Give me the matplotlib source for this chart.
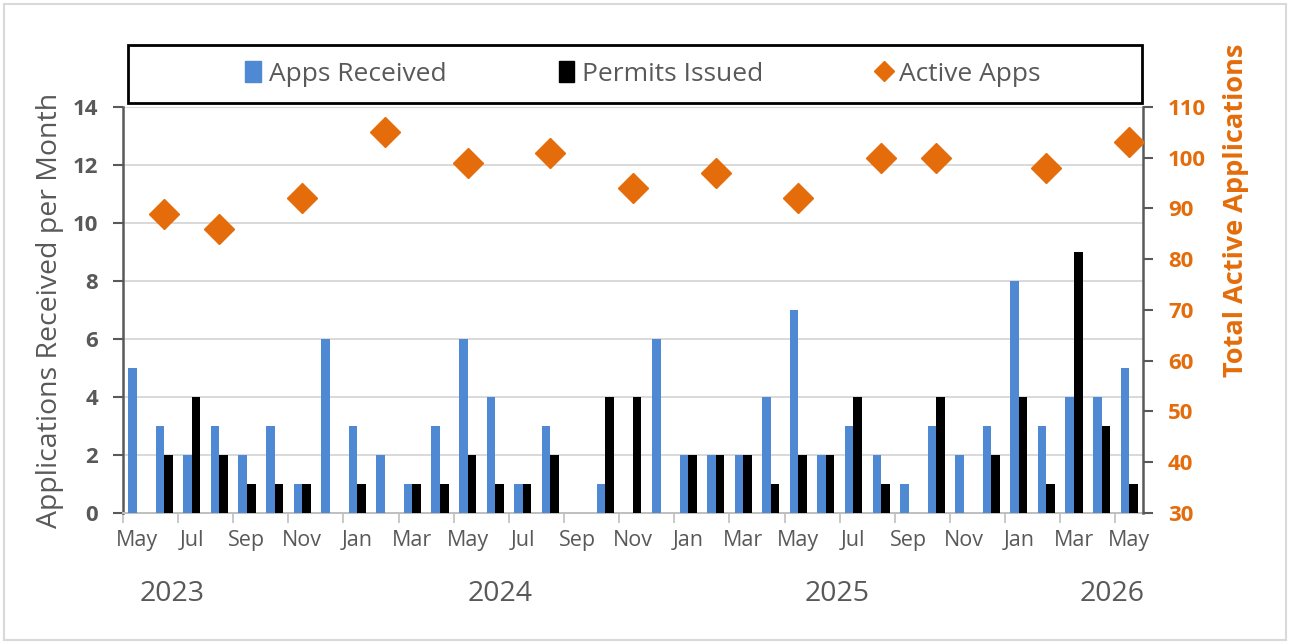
import numpy as np
import matplotlib.pyplot as plt
from matplotlib.patches import Rectangle
from matplotlib.lines import Line2D
from matplotlib.patches import Patch

plt.rcParams['font.family'] = ['Open Sans', 'DejaVu Sans']

# monthly counts, May 2023 .. May 2026
months = ["May", "Jun", "Jul", "Aug", "Sep", "Oct", "Nov", "Dec",
          "Jan", "Feb", "Mar", "Apr", "May", "Jun", "Jul", "Aug", "Sep", "Oct", "Nov", "Dec",
          "Jan", "Feb", "Mar", "Apr", "May", "Jun", "Jul", "Aug", "Sep", "Oct", "Nov", "Dec",
          "Jan", "Feb", "Mar", "Apr", "May"]
apps_received = [5, 3, 2, 3, 2, 3, 1, 6,
                 3, 2, 1, 3, 6, 4, 1, 3, 0, 1, 0, 6,
                 2, 2, 2, 4, 7, 2, 3, 2, 1, 3, 2, 3,
                 8, 3, 4, 4, 5]
permits_issued = [0, 2, 4, 2, 1, 1, 1, 0,
                  1, 0, 1, 1, 2, 1, 1, 2, 0, 4, 4, 0,
                  2, 2, 2, 1, 2, 2, 4, 1, 0, 4, 0, 2,
                  4, 1, 9, 3, 1]
# total active applications, only reported some months
active_apps = [np.nan, 89, np.nan, 86, np.nan, np.nan, 92, np.nan,
               np.nan, 105, np.nan, np.nan, 99, np.nan, np.nan, 101, np.nan, np.nan, 94, np.nan,
               np.nan, 97, np.nan, np.nan, 92, np.nan, np.nan, 100, np.nan, 100, np.nan, np.nan,
               np.nan, 98, np.nan, np.nan, 103]
years = ["2023", "2024", "2025", "2026"]
year_pos = [1.3, 13.2, 25.4, 35.4]

blue = "#4F88D3"
orange = "#E46C0A"
gray = "#595959"

x = np.arange(len(months))
fig = plt.figure(figsize=(12.9, 6.44), dpi=100)
ax = fig.add_axes([0.0953, 0.2034, 0.7907, 0.6305])

w = 0.31
ax.bar(x - w / 2, apps_received, width=w, color=blue, zorder=3)
ax.bar(x + w / 2, permits_issued, width=w, color="black", zorder=3)

ax.set_xlim(-0.5, len(months) - 0.5)
ax.set_ylim(0, 14)
ax.set_yticks(range(0, 15, 2))
ax.yaxis.grid(True, color="#D9D9D9", lw=1.4, zorder=0)
ax.set_axisbelow(True)

# labels every other month at the centre, ticks on the boundaries
ax.set_xticks(x[::2])
ax.set_xticklabels(months[::2], fontsize=15.5, color=gray)
ax.tick_params(axis="x", length=0, pad=12)
ax.set_xticks(np.arange(-0.5, len(months), 2), minor=True)
ax.tick_params(axis="x", which="minor", length=7, width=1.2, color="#BFBFBF")

ax.tick_params(axis="y", length=7, width=1.5, color=gray, labelsize=16, labelcolor=gray, pad=11)
for t in ax.get_yticklabels():
    t.set_fontweight("bold")
ax.set_ylabel("Applications Received per Month", fontsize=20.5, color=gray, labelpad=6)

ax.spines["top"].set_visible(False)
ax.spines["left"].set_color(gray)
ax.spines["left"].set_linewidth(1.8)
ax.spines["bottom"].set_color("#BFBFBF")
ax.spines["bottom"].set_linewidth(1.4)
ax.spines["right"].set_visible(False)

ax2 = ax.twinx()
ax2.plot(x, active_apps, linestyle="none", marker="D", ms=15, color=orange, zorder=4)
ax2.set_ylim(30, 110)
ax2.set_yticks(range(30, 111, 10))
ax2.tick_params(axis="y", length=7, width=1.5, color=gray, labelsize=16, labelcolor=orange, pad=11)
for t in ax2.get_yticklabels():
    t.set_fontweight("bold")
ax2.set_ylabel("Total Active Applications", fontsize=19.5, color=orange, fontweight="bold")
ax2.yaxis.set_label_coords(1.078, 0.746)
for s in ["top", "left", "bottom"]:
    ax2.spines[s].set_visible(False)
ax2.spines["right"].set_color(gray)
ax2.spines["right"].set_linewidth(1.8)

for yr, p in zip(years, year_pos):
    ax.text(p, -0.2, yr, transform=ax.get_xaxis_transform(), ha="center", va="center",
            fontsize=20.5, color=gray)

# legend box above the plot
fig.patches.append(Rectangle((128 / 1290, 1 - 103 / 644), (1142 - 128) / 1290, 58 / 644,
                             transform=fig.transFigure, fill=False, ec="black", lw=2))
handles = [Patch(color=blue), Patch(color="black"),
           Line2D([], [], linestyle="none", marker="D", ms=10, color=orange)]
fig.legend(handles, ["Apps Received", "Permits Issued", "Active Apps"],
           loc="center", bbox_to_anchor=(643 / 1290, 1 - 74 / 644), ncol=3, frameon=False,
           fontsize=19, handlelength=0.6, handleheight=0.8, handletextpad=0.3,
           columnspacing=4.25, labelcolor=gray)

# light outer border
fig.patches.append(Rectangle((4 / 1290, 4 / 644), 1282 / 1290, 636 / 644,
                             transform=fig.transFigure, fill=False, ec="#D9D9D9", lw=1.5))

fig.savefig("out.png", dpi=100)
